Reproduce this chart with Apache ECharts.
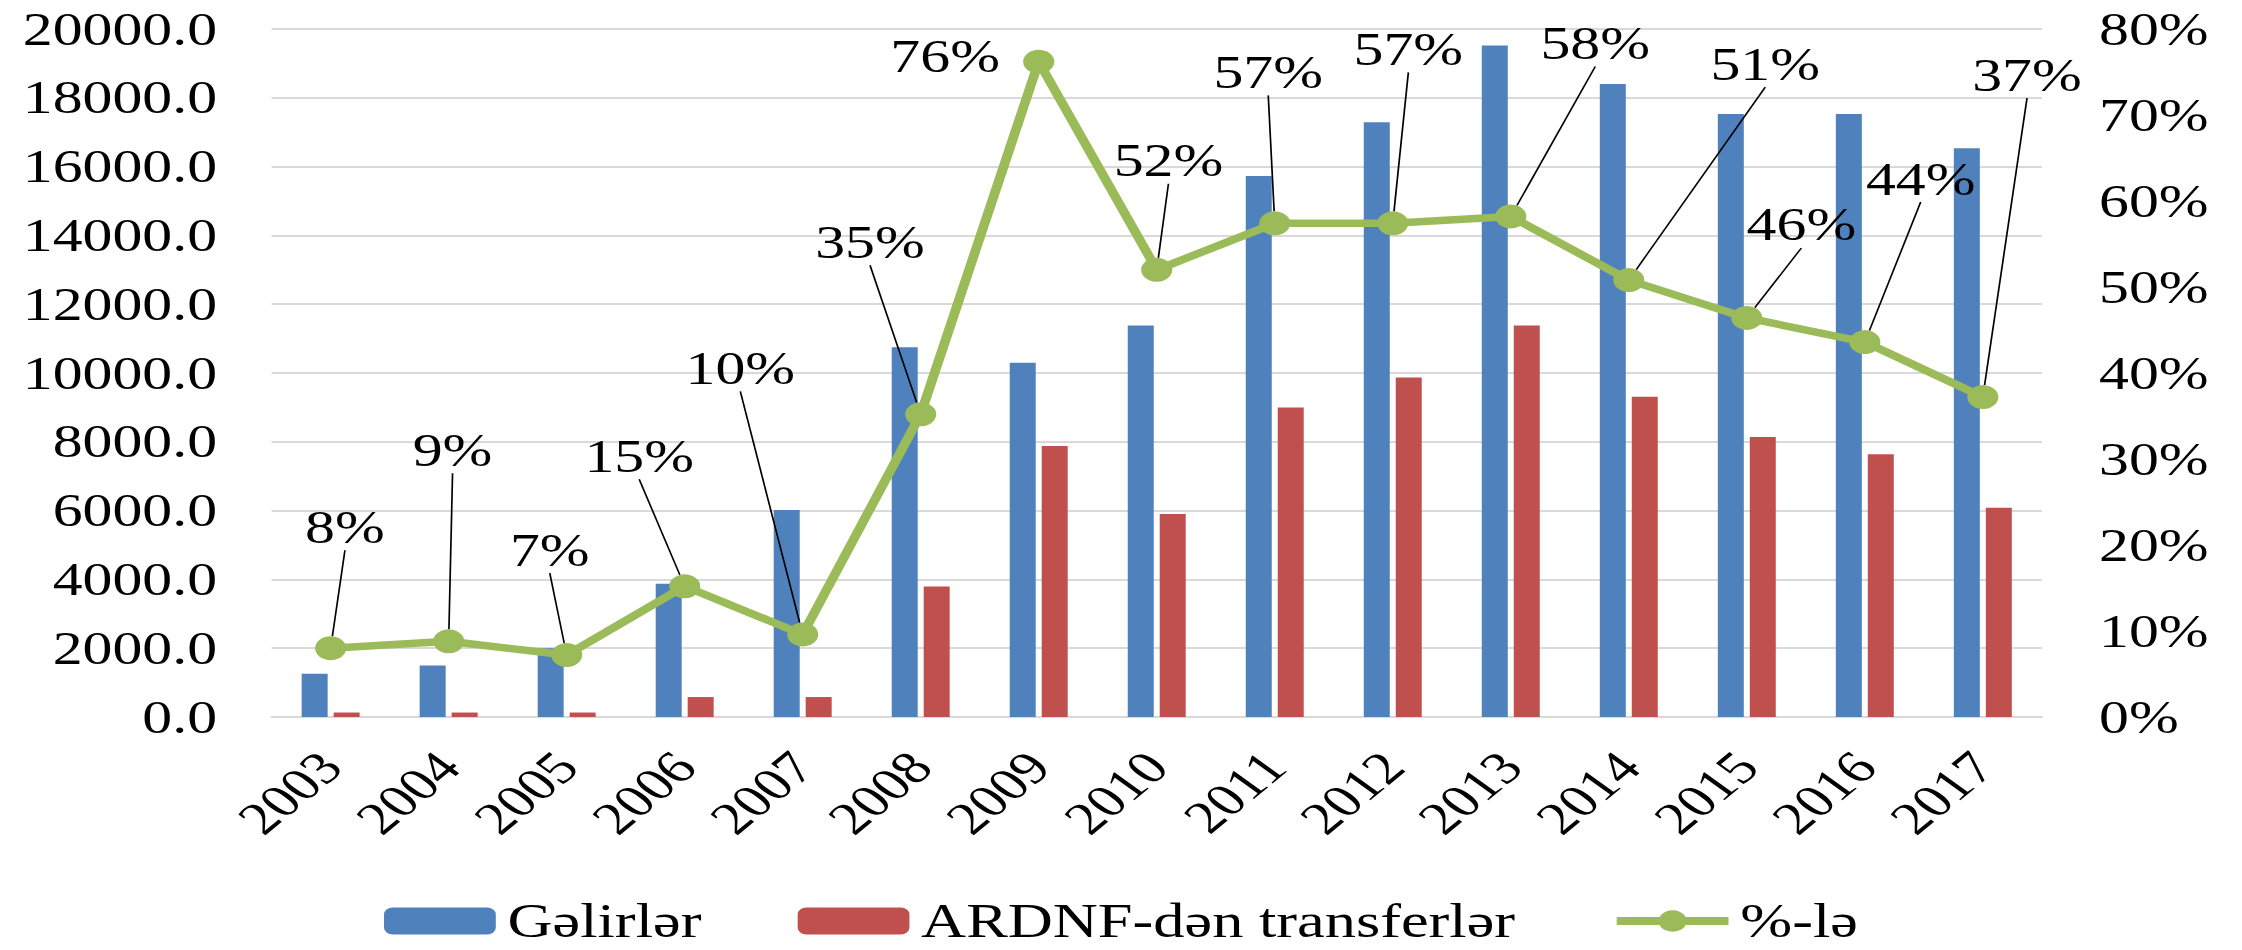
<!DOCTYPE html>
<html>
<head>
<meta charset="utf-8">
<script src="https://cdn.jsdelivr.net/npm/echarts@6/dist/echarts.min.js"></script>
<style>
  html, body { margin: 0; padding: 0; background: #fff; overflow: hidden; }
  /* the source picture is stretched wide, so the chart is drawn narrower and scaled */
  #mychart { width: 1725px; height: 950px; transform: scaleX(1.2997); transform-origin: 0 0; }
</style>
</head>
<body>
<div id="mychart"></div>
<script>
const years = ['2003', '2004', '2005', '2006', '2007', '2008', '2009', '2010', '2011', '2012', '2013', '2014', '2015', '2016', '2017']
const gelirler = [1260, 1500, 2000, 3870, 6020, 10750, 10300, 11380, 15730, 17290, 19520, 18400, 17530, 17530, 16530]
const transferler = [130, 130, 130, 580, 580, 3790, 7880, 5900, 9000, 9870, 11380, 9310, 8140, 7640, 6080]
const faiz = [0.08, 0.088, 0.072, 0.152, 0.096, 0.352, 0.762, 0.52, 0.574, 0.574, 0.582, 0.508, 0.464, 0.436, 0.372]
const seriesNames = ['Gəlirlər', 'ARDNF-dən transferlər', '%-lə']

// where each % label sits relative to its point (moved labels, like in the source)
const labelShift = [
  [11, -121], [3, -191], [-13, -105], [-35, -130], [-48, -266],
  [-39, -172], [-72, -5], [9, -109], [-5, -151], [12, -174],
  [65, -173], [105, -216], [42, -93], [43, -163], [34, -322],
]

const font = 'Liberation Serif'
const green = '#9bbb59'

const option = {
  animation: false,
  textStyle: { fontFamily: font, color: '#000' },
  grid: { left: 209, right: 154, top: 29, bottom: 233, outerBoundsMode: 'none' },
  legend: {
    top: 892,
    left: 'center',
    itemWidth: 86,
    itemHeight: 27,
    itemGap: 74,
    textStyle: { fontFamily: font, fontSize: 48, color: '#000', padding: [0, 0, 0, 4] },
    data: [
      seriesNames[0],
      seriesNames[1],
      { name: seriesNames[2], lineStyle: { width: 8, color: green }, itemStyle: { color: green } },
    ],
  },
  xAxis: {
    type: 'category',
    data: years,
    axisTick: { show: false },
    axisLine: { lineStyle: { color: '#d9d9d9', width: 2 } },
    axisLabel: { rotate: 47, margin: 42, fontSize: 46, fontFamily: font, color: '#000' },
  },
  yAxis: [
    {
      type: 'value',
      min: 0,
      max: 20000,
      interval: 2000,
      axisLabel: {
        margin: 42,
        fontSize: 46,
        fontFamily: font,
        color: '#000',
        formatter: (v) => v.toFixed(1),
      },
      splitLine: { lineStyle: { color: '#d9d9d9', width: 2 } },
    },
    {
      type: 'value',
      min: 0,
      max: 0.8,
      interval: 0.1,
      axisLabel: {
        margin: 44,
        fontSize: 46,
        fontFamily: font,
        color: '#000',
        formatter: (v) => Math.round(v * 100) + '%',
      },
      splitLine: { show: false },
    },
  ],
  series: [
    {
      name: seriesNames[0],
      type: 'bar',
      data: gelirler,
      barWidth: 20,
      barGap: '23%',
      itemStyle: { color: '#4f81bd' },
    },
    {
      name: seriesNames[1],
      type: 'bar',
      data: transferler,
      barWidth: 20,
      itemStyle: { color: '#c0504d' },
    },
    {
      name: seriesNames[2],
      type: 'line',
      yAxisIndex: 1,
      data: faiz.map((v, i) => (i === 6 ? { value: v, labelLine: { show: false } } : v)),
      symbol: 'circle',
      symbolSize: 24,
      z: 5,
      lineStyle: { color: green, width: 7.5 },
      itemStyle: { color: green },
      label: {
        show: true,
        position: 'inside',
        fontFamily: font,
        fontSize: 46,
        color: '#000',
        formatter: (p) => Math.round(p.value * 100) + '%',
      },
      labelLine: { show: true, lineStyle: { color: '#000', width: 1.3 } },
      labelLayout: (params) => ({
        dx: labelShift[params.dataIndex][0],
        dy: labelShift[params.dataIndex][1],
      }),
    },
  ],
}

const myChart = echarts.init(document.getElementById('mychart'), null, { renderer: 'svg' })
myChart.setOption(option)
</script>
</body>
</html>
